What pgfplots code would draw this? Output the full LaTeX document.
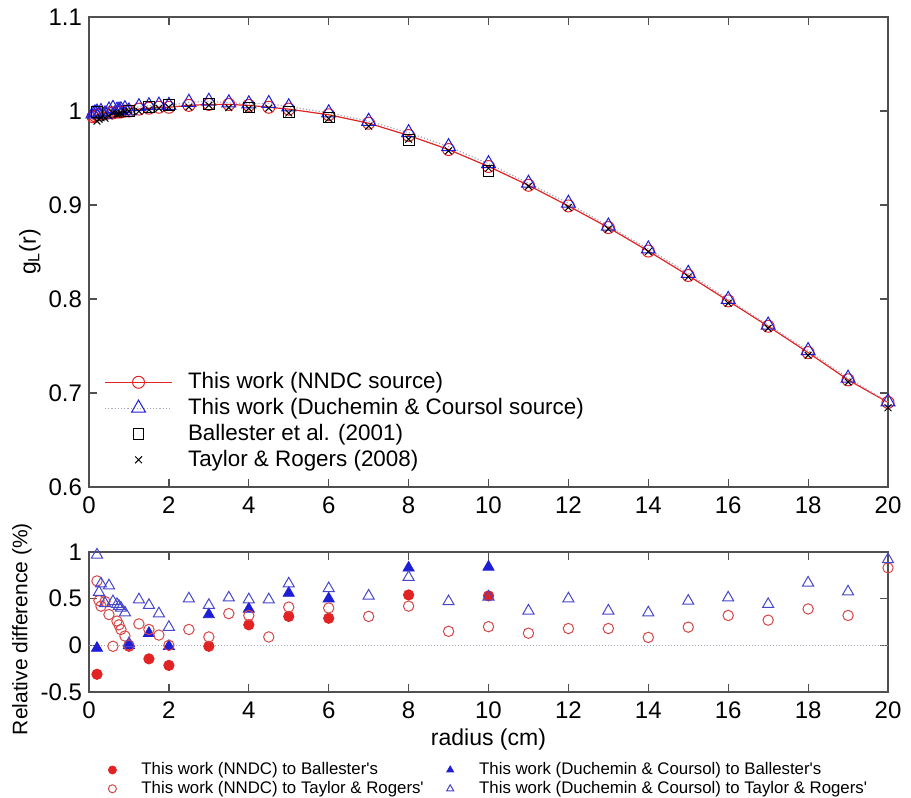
\documentclass[border=0pt]{standalone}
\usepackage{fontspec}
\setmainfont{Liberation Sans}
\usepackage{pgfplots}
\pgfplotsset{compat=1.18}

\definecolor{nred}{RGB}{225,35,35}
\definecolor{ored}{RGB}{215,70,70}
\definecolor{dblue}{RGB}{30,30,215}
\definecolor{oblue}{RGB}{70,70,205}
\definecolor{lgray}{RGB}{165,165,185}
\definecolor{axgray}{RGB}{80,80,80}

\pgfplotsset{
  matlab/.style={
    scale only axis, width=399.5pt,
    xmin=0, xmax=20, xtick={0,2,4,6,8,10,12,14,16,18,20},
    tick align=inside, major tick length=4pt,
    axis line style={draw=axgray, line width=0.6pt},
    every tick/.style={draw=axgray, line width=0.6pt},
    tick label style={font=\fontsize{12}{14}\selectfont},
    xticklabel style={yshift=-1.5pt},
    label style={font=\fontsize{11.5}{13}\selectfont},
    /pgf/number format/assume math mode=true,
  },
}

\begin{document}
\begin{tikzpicture}
\useasboundingbox (-44.5pt,-155.5pt) rectangle (411pt,243.5pt);

\begin{axis}[matlab, name=top, at={(0,0)}, anchor=south west,
  height=235pt,
  ymin=0.6, ymax=1.1, ytick={0.6,0.7,0.8,0.9,1,1.1},
  yticklabel style={/pgf/number format/fixed},
  ylabel={g\textsubscript{L}(r)},
  ylabel style={at={(axis description cs:-0.074,0.5)}, anchor=center},
  legend style={at={(0.0113,0.259)}, anchor=north west, draw=none, fill=none,
    font=\fontsize{11.2}{13}\selectfont, row sep=0.3pt,
    nodes={inner sep=1.5pt}},
  legend cell align=left,
  legend image code/.code={\draw[mark repeat=2,mark phase=2,#1] plot coordinates {(0pt,0pt) (16.75pt,0pt) (33.5pt,0pt)}; \path[draw=none, fill=none] (0pt,0pt) -- (40pt,0pt);},
]
% This work (NNDC source)
\addplot[draw=nred, line width=0.6pt, mark=o, mark size=3pt, mark options={solid, draw=nred, line width=0.5pt}] table {
r g
0.1 0.994
0.15 0.995
0.2 0.996
0.25 0.996
0.3 0.997
0.4 0.997
0.5 0.998
0.6 0.998
0.7 0.999
0.75 0.999
0.8 0.999
0.9 1.000
1 1.000
1.25 1.002
1.5 1.003
1.75 1.004
2 1.004
2.5 1.006
3 1.007
3.5 1.007
4 1.006
4.5 1.004
5 1.002
6 0.996
7 0.987
8 0.974
9 0.959
10 0.941
11 0.921
12 0.899
13 0.876
14 0.851
15 0.825
16 0.798
17 0.771
18 0.743
19 0.714
20 0.690
};
\addlegendentry{This work (NNDC source)}
% This work (Duchemin & Coursol source)
\addplot[draw=lgray, densely dotted, line width=0.6pt, mark=triangle, mark size=4pt, mark options={solid, draw=dblue, line width=0.5pt}] table {
r g
0.1 0.997
0.15 0.998
0.2 0.9988
0.25 0.9968
0.3 0.9994
0.4 0.9968
0.5 1.0011
0.6 1.0028
0.7 1.0008
0.75 1.0010
0.8 1.0013
0.9 1.0025
1 1.0001
1.25 1.0046
1.5 1.0056
1.75 1.0063
2 1.0060
2.5 1.0093
3 1.0104
3.5 1.0087
4 1.0077
4.5 1.0080
5 1.0045
6 0.9981
7 0.9891
8 0.9770
9 0.9621
10 0.9440
11 0.9232
12 0.9019
13 0.8776
14 0.8533
15 0.8273
16 0.7996
17 0.7723
18 0.7451
19 0.7158
20 0.6906
};
\addlegendentry{This work (Duchemin \& Coursol source)}
% Ballester et al. (2001)
\addplot[only marks, mark=square, mark size=2.7pt, mark options={draw=black, line width=0.5pt}] table {
r g
0.2 0.9991
1 1.0001
1.5 1.0045
2 1.0062
3 1.0071
4 1.0038
5 0.9989
6 0.9931
8 0.9688
10 0.9360
};
\addlegendentry{Ballester et al. (2001)}
% Taylor & Rogers (2008)
\addplot[only marks, mark=x, mark size=2.4pt, mark options={draw=black, line width=0.5pt}] table {
r g
0.2 0.9892
0.25 0.9912
0.3 0.9928
0.4 0.9923
0.5 0.9947
0.6 0.9981
0.7 0.9964
0.75 0.9968
0.8 0.9973
0.9 0.9990
1 1.0000
1.25 0.9997
1.5 1.0013
1.75 1.0029
2 1.0040
2.5 1.0043
3 1.0061
3.5 1.0036
4 1.0028
4.5 1.0031
5 0.9979
6 0.9920
7 0.9839
8 0.9699
9 0.9576
10 0.9391
11 0.9198
12 0.8974
13 0.8744
14 0.8503
15 0.8234
16 0.7955
17 0.7689
18 0.7401
19 0.7117
20 0.6843
};
\addlegendentry{Taylor \& Rogers (2008)}
\end{axis}

\begin{axis}[matlab, name=bot, at={(0,-102.5pt)}, anchor=south west,
  height=70pt,
  ymin=-0.5, ymax=1, ytick={-0.5,0,0.5,1},
  xlabel={radius (cm)},
  xlabel style={at={(axis description cs:0.5,-0.343)}, anchor=center},
  ylabel={Relative difference (\%)},
  ylabel style={at={(axis description cs:-0.084,0.45)}, anchor=center,
    font=\fontsize{10.5}{12}\selectfont},
  legend columns=2,
  legend style={at={(0.0163,-0.45)}, anchor=north west, draw=none, fill=none,
    font=\fontsize{8.4}{10}\selectfont, row sep=-1.2pt,
    nodes={inner sep=1.5pt},
    /tikz/every even column/.append style={column sep=10pt}},
  legend cell align=left,
  legend image code/.code={\draw[#1, mark size=2pt] plot coordinates {(0pt,0pt)}; \path[draw=none, fill=none] (0pt,0pt) -- (13pt,0pt);},
]
\addplot[draw=lgray, densely dotted, line width=0.5pt, forget plot] coordinates {(0,0) (20,0)};
% NNDC to Ballester
\addplot[only marks, mark=*, mark size=2.6pt, mark options={draw=nred, fill=nred}] table {
r d
0.2 -0.31
1 -0.01
1.5 -0.145
2 -0.215
3 -0.01
4 0.22
5 0.31
6 0.29
8 0.54
10 0.53
};
\addlegendentry{This work (NNDC) to Ballester\textquotesingle s}
% D&C to Ballester
\addplot[only marks, mark=triangle*, mark size=3.2pt, mark options={draw=dblue, fill=dblue}] table {
r d
0.2 -0.03
1 0.0
1.5 0.13
2 -0.01
3 0.33
4 0.39
5 0.56
6 0.50
8 0.83
10 0.84
};
\addlegendentry{This work (Duchemin \& Coursol) to Ballester\textquotesingle s}
% NNDC to Taylor & Rogers
\addplot[only marks, mark=o, mark size=2.6pt, mark options={draw=ored, line width=0.5pt}] table {
r d
0.2 0.69
0.25 0.48
0.3 0.42
0.4 0.47
0.5 0.33
0.6 -0.01
0.7 0.26
0.75 0.22
0.8 0.17
0.9 0.10
1 0.00
1.25 0.23
1.5 0.17
1.75 0.11
2 0.00
2.5 0.17
3 0.09
3.5 0.34
4 0.32
4.5 0.09
5 0.41
6 0.40
7 0.31
8 0.42
9 0.15
10 0.20
11 0.13
12 0.18
13 0.18
14 0.085
15 0.195
16 0.32
17 0.27
18 0.39
19 0.32
20 0.83
};
\addlegendentry{This work (NNDC) to Taylor \& Rogers\textquotesingle}
% D&C to Taylor & Rogers
\addplot[only marks, mark=triangle, mark size=3.2pt, mark options={draw=oblue, line width=0.5pt}] table {
r d
0.2 0.97
0.25 0.57
0.3 0.66
0.4 0.45
0.5 0.64
0.6 0.47
0.7 0.44
0.75 0.42
0.8 0.40
0.9 0.35
1 0.02
1.25 0.49
1.5 0.43
1.75 0.34
2 0.195
2.5 0.50
3 0.43
3.5 0.51
4 0.49
4.5 0.49
5 0.66
6 0.61
7 0.53
8 0.73
9 0.47
10 0.52
11 0.37
12 0.50
13 0.37
14 0.35
15 0.475
16 0.51
17 0.44
18 0.67
19 0.575
20 0.92
};
\addlegendentry{This work (Duchemin \& Coursol) to Taylor \& Rogers\textquotesingle}
\end{axis}
\end{tikzpicture}
\end{document}
